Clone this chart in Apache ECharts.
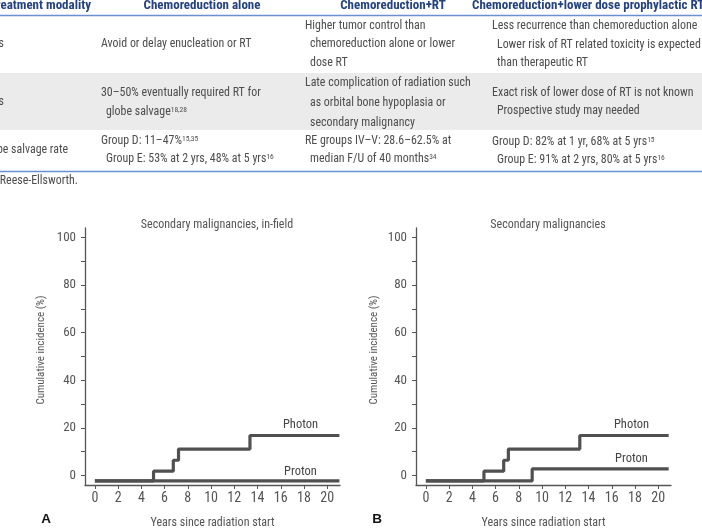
<!DOCTYPE html>
<html>
<head>
<meta charset="utf-8">
<script src="https://cdn.jsdelivr.net/npm/echarts@6/dist/echarts.min.js"></script>
<style>
html, body { margin: 0; padding: 0; background: #fff; }
#main { width: 702px; height: 530px; }
</style>
</head>
<body>
<div id="main"></div>
<script>
var FONT = "'Liberation Sans Narrow', 'Roboto Condensed', 'DejaVu Sans Condensed', sans-serif";
var GREY = '#555';

// ---- table at top of page (cut off) ----
var tableHeaders = ['Treatment modality', 'Chemoreduction alone', 'Chemoreduction+RT', 'Chemoreduction+lower dose prophylactic RT'];
var rowLabels = ['Advantages', 'Disadvantages', 'Globe salvage rate'];
var colChemoAlone = [
    ['Avoid or delay enucleation or RT'],
    ['30\u201350% eventually required RT for', 'globe salvage{sup|18,28}'],
    ['Group D: 11\u201347%{sup|15,35}', 'Group E: 53% at 2 yrs, 48% at 5 yrs{sup|16}']
];
var colChemoRT = [
    ['Higher tumor control than', 'chemoreduction alone or lower', 'dose RT'],
    ['Late complication of radiation such', 'as orbital bone hypoplasia or', 'secondary malignancy'],
    ['RE groups IV\u2013V: 28.6\u201362.5% at', 'median F/U of 40 months{sup|34}']
];
var colChemoLow = [
    ['Less recurrence than chemoreduction alone', 'Lower risk of RT related toxicity is expected', 'than therapeutic RT'],
    ['Exact risk of lower dose of RT is not known', 'Prospective study may needed'],
    ['Group D: 82% at 1 yr, 68% at 5 yrs{sup|15}', 'Group E: 91% at 2 yrs, 80% at 5 yrs{sup|16}']
];
var footnote = 'RE, Reese-Ellsworth.';

// ---- figure data ----
var xTicks = [0, 2, 4, 6, 8, 10, 12, 14, 16, 18, 20];
var yTicks = [0, 10, 20, 30, 40, 50, 60, 70, 80, 90, 100];
var yLabels = [0, 20, 40, 60, 80, 100];

var titles = ['Secondary malignancies, in-field', 'Secondary malignancies'];
var panelLetters = ['A', 'B'];
var yName = 'Cumulative incidence (%)';

var yearsA_photon = [0, 5.05, 6.75, 7.2, 13.35, 21.05];
var incA_photon   = [-2.3, 1.8, 6.4, 11.1, 16.8, 16.8];
var yearsA_proton = [0, 21.05];
var incA_proton   = [-2.3, -2.3];

var yearsB_photon = [0, 5.0, 6.7, 7.1, 13.25, 20.9];
var incB_photon   = [-2.3, 1.8, 6.4, 11.1, 16.8, 16.8];
var yearsB_proton = [0, 9.15, 20.9];
var incB_proton   = [-2.3, 2.75, 2.75];

// label anchors in data units [years, %]
var photonLabelAt = [[17.7, 21.3], [17.7, 21.4]];
var protonLabelAt = [[17.7, 1.7], [17.7, 6.9]];

function zip(xs, ys) {
    return xs.map(function (x, i) { return [x, ys[i]]; });
}

var myChart = echarts.init(document.getElementById('main'));

// table graphics
var g = [];
g.push({ type: 'rect', shape: { x: 0, y: 73, width: 702, height: 57 }, style: { fill: '#ebebeb' } });
g.push({ type: 'line', shape: { x1: 0, y1: 15.5, x2: 702, y2: 15.5 }, style: { stroke: '#6b8fd0', lineWidth: 1.5 } });
g.push({ type: 'line', shape: { x1: 0, y1: 171.5, x2: 702, y2: 171.5 }, style: { stroke: '#6b8fd0', lineWidth: 1.5 } });

function txt(x, y, s, opt) {
    opt = opt || {};
    g.push({
        type: 'text',
        x: x, y: y,
        rotation: opt.rotation || 0,
        style: {
            text: s,
            fontFamily: opt.family || FONT,
            fontSize: opt.size || 11.9,
            fontWeight: opt.weight || 'normal',
            fill: opt.color || '#4d4d4d',
            align: opt.align || 'left',
            verticalAlign: 'middle',
            textAlign: opt.align || 'left',
            textVerticalAlign: 'middle',
            rich: {
                sup: { fontSize: 7.5, verticalAlign: 'top', fill: opt.color || '#4d4d4d', fontFamily: FONT }
            }
        }
    });
}

var HEAD = { weight: 'bold', color: '#24427f', size: 13 };
txt(91, 6, tableHeaders[0], Object.assign({ align: 'right' }, HEAD));
txt(202, 6, tableHeaders[1], Object.assign({ align: 'center' }, HEAD));
txt(393, 6, tableHeaders[2], Object.assign({ align: 'center' }, HEAD));
txt(472, 6, tableHeaders[3], HEAD);

var rowLabelY = [44, 102, 150];
var rowLabelRight = [4, 4, 68];
rowLabels.forEach(function (s, i) { txt(rowLabelRight[i], rowLabelY[i], s, { align: 'right' }); });

var linesY = [[44], [93, 112], [141, 159]];
var linesY3 = [[26, 44, 63], [83, 103, 123], [141, 159]];
var linesY4 = [[26, 45, 63], [93, 111], [142, 160]];
function cell(col, x, ys) {
    col.forEach(function (lines, r) {
        lines.forEach(function (s, k) {
            txt(k === 0 ? x : x + 5, ys[r][k], s);
        });
    });
}
cell(colChemoAlone, 101, linesY);
cell(colChemoRT, 305, linesY3);
cell(colChemoLow, 492, linesY4);
txt(78, 181, footnote, { align: 'right' });

// panel letters and y-axis names
txt(46, 519, panelLetters[0], { family: 'Liberation Sans, Arial, sans-serif', weight: 'bold', color: '#111', size: 13.5, align: 'center' });
txt(377, 519, panelLetters[1], { family: 'Liberation Sans, Arial, sans-serif', weight: 'bold', color: '#111', size: 13.5, align: 'center' });
txt(41.5, 350, yName, { color: GREY, size: 11, align: 'center', rotation: Math.PI / 2 });
txt(374, 350, yName, { color: GREY, size: 11, align: 'center', rotation: Math.PI / 2 });

function xAxisFor(i) {
    return {
        gridIndex: i, type: 'value', min: -0.85, max: 21.1,
        name: 'Years since radiation start', nameLocation: 'middle', nameGap: 32,
        nameTextStyle: { fontFamily: FONT, fontSize: 12, color: GREY },
        axisLine: { onZero: false, lineStyle: { color: GREY, width: 1.3 } },
        axisTick: { customValues: xTicks, length: 4, lineStyle: { color: GREY } },
        axisLabel: { customValues: xTicks, fontFamily: FONT, fontSize: 14, color: GREY, margin: 6 },
        splitLine: { show: false }
    };
}
function yAxisFor(i) {
    return {
        gridIndex: i, type: 'value', min: -4, max: 104,
        axisLine: { show: true, onZero: false, lineStyle: { color: GREY, width: 1.3 } },
        axisTick: { show: true, customValues: yTicks, length: 4, lineStyle: { color: GREY } },
        axisLabel: { customValues: yLabels, fontFamily: FONT, fontSize: 13, color: GREY, margin: 9 },
        splitLine: { show: false }
    };
}

function stepSeries(i, name, data, labelAt) {
    return {
        name: name, type: 'line', step: 'end',
        xAxisIndex: i, yAxisIndex: i,
        data: data, showSymbol: false, silent: true,
        lineStyle: { color: '#505050', width: 3.2 },
        markPoint: {
            symbol: 'circle', symbolSize: 0, silent: true,
            label: { show: true, position: 'inside', formatter: name, fontFamily: FONT, fontSize: 12.5, color: '#444' },
            data: [{ coord: labelAt }]
        }
    };
}

var option = {
    backgroundColor: '#fff',
    animation: false,
    title: [
        { text: titles[0], left: 212, top: 214, textAlign: 'center', textStyle: { fontFamily: FONT, fontSize: 12, fontWeight: 'normal', color: GREY } },
        { text: titles[1], left: 543, top: 214, textAlign: 'center', textStyle: { fontFamily: FONT, fontSize: 12, fontWeight: 'normal', color: GREY } }
    ],
    grid: [
        { left: 85, top: 228, width: 255, height: 263 },
        { left: 416, top: 228, width: 255, height: 263 }
    ],
    xAxis: [xAxisFor(0), xAxisFor(1)],
    yAxis: [yAxisFor(0), yAxisFor(1)],
    series: [
        stepSeries(0, 'Photon', zip(yearsA_photon, incA_photon), photonLabelAt[0]),
        stepSeries(0, 'Proton', zip(yearsA_proton, incA_proton), protonLabelAt[0]),
        stepSeries(1, 'Photon', zip(yearsB_photon, incB_photon), photonLabelAt[1]),
        stepSeries(1, 'Proton', zip(yearsB_proton, incB_proton), protonLabelAt[1])
    ],
    graphic: g
};

myChart.setOption(option, true);
</script>
</body>
</html>
